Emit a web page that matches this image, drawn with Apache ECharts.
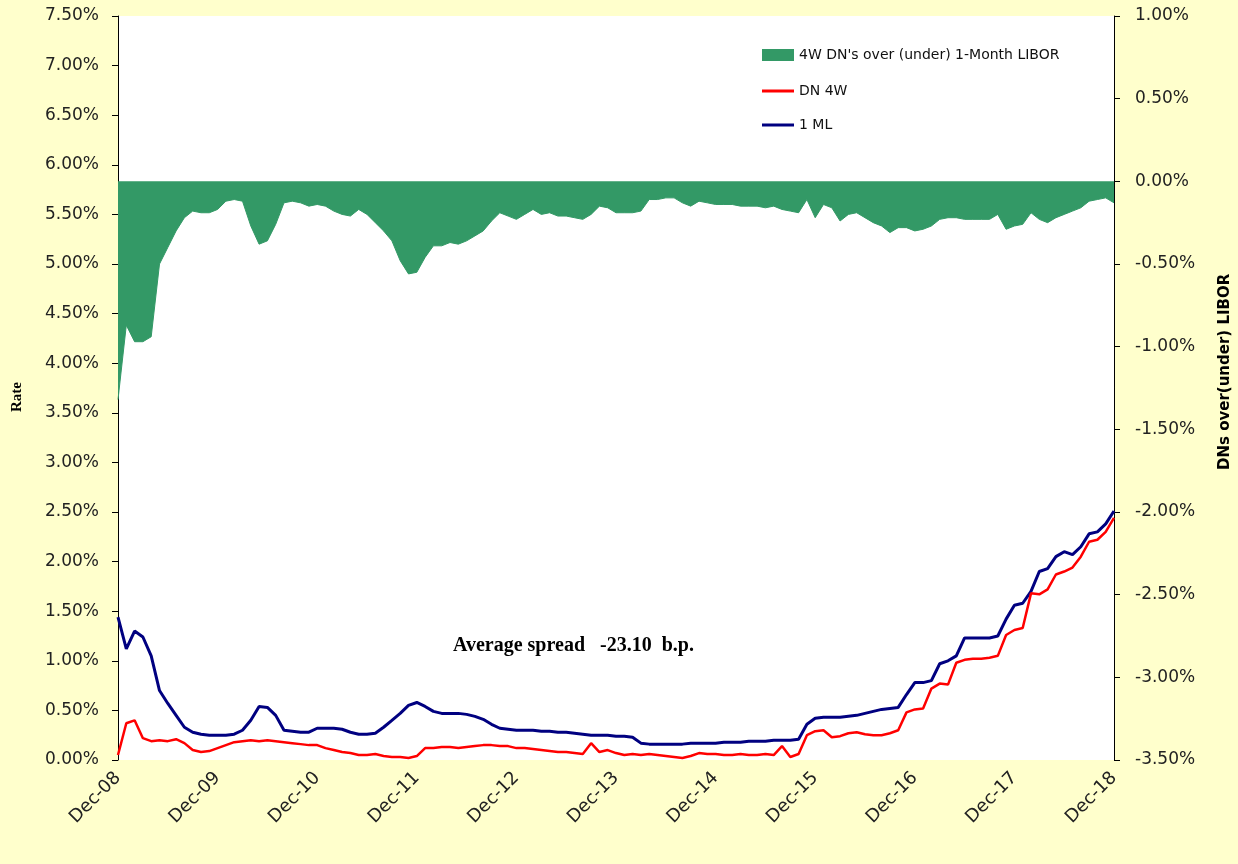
<!DOCTYPE html>
<html>
<head>
<meta charset="utf-8">
<script src="https://cdn.jsdelivr.net/npm/echarts@6/dist/echarts.min.js"></script>
<style>
html,body{margin:0;padding:0;background:#FFFFCC;}
#c{width:1238px;height:864px;}
</style>
</head>
<body>
<div id="c"></div>
<script>
// Month index 0 = Dec-08 ... 120 = Dec-18 (monthly readings)
const tickLabels = ['Dec-08','Dec-09','Dec-10','Dec-11','Dec-12','Dec-13','Dec-14','Dec-15','Dec-16','Dec-17','Dec-18'];

const oneML = [1.44,1.12,1.30,1.24,1.05,0.70,0.57,0.45,0.33,0.28,0.26,0.25,0.25,0.25,0.26,0.30,0.40,0.54,0.53,0.45,
0.30,0.29,0.28,0.28,0.32,0.32,0.32,0.31,0.28,0.26,0.26,0.27,0.33,0.40,0.47,0.55,0.58,0.54,0.49,0.47,
0.47,0.47,0.46,0.44,0.41,0.36,0.32,0.31,0.30,0.30,0.30,0.29,0.29,0.28,0.28,0.27,0.26,0.25,0.25,0.25,
0.24,0.24,0.23,0.17,0.16,0.16,0.16,0.16,0.16,0.17,0.17,0.17,0.17,0.18,0.18,0.18,0.19,0.19,0.19,0.20,
0.20,0.20,0.21,0.36,0.42,0.43,0.43,0.43,0.44,0.45,0.47,0.49,0.51,0.52,0.53,0.66,0.78,0.78,0.80,0.97,
1.00,1.05,1.23,1.23,1.23,1.23,1.25,1.42,1.56,1.58,1.70,1.90,1.93,2.05,2.10,2.07,2.15,2.28,2.30,2.38,2.51];

const dn4w = [0.05,0.37,0.40,0.22,0.19,0.20,0.19,0.21,0.17,0.10,0.08,0.09,0.12,0.15,0.18,0.19,0.20,0.19,0.20,0.19,
0.18,0.17,0.16,0.15,0.15,0.12,0.10,0.08,0.07,0.05,0.05,0.06,0.04,0.03,0.03,0.02,0.04,0.12,0.12,0.13,
0.13,0.12,0.13,0.14,0.15,0.15,0.14,0.14,0.12,0.12,0.11,0.10,0.09,0.08,0.08,0.07,0.06,0.17,0.08,0.10,
0.07,0.05,0.06,0.05,0.06,0.05,0.04,0.03,0.02,0.04,0.07,0.06,0.06,0.05,0.05,0.06,0.05,0.05,0.06,0.05,
0.14,0.03,0.06,0.25,0.29,0.30,0.23,0.24,0.27,0.28,0.26,0.25,0.25,0.27,0.30,0.48,0.51,0.52,0.72,0.77,
0.76,0.98,1.01,1.02,1.02,1.03,1.05,1.26,1.31,1.33,1.68,1.67,1.72,1.87,1.90,1.94,2.05,2.20,2.22,2.30,2.44];

const spread = [-1.32,-0.87,-0.97,-0.97,-0.94,-0.50,-0.40,-0.30,-0.22,-0.18,-0.19,-0.19,-0.17,-0.12,-0.11,-0.12,-0.27,-0.38,-0.36,-0.26,
-0.13,-0.12,-0.13,-0.15,-0.14,-0.15,-0.18,-0.20,-0.21,-0.17,-0.20,-0.25,-0.30,-0.36,-0.48,-0.56,-0.55,-0.46,-0.39,-0.39,
-0.37,-0.38,-0.36,-0.33,-0.30,-0.24,-0.19,-0.21,-0.23,-0.20,-0.17,-0.20,-0.19,-0.21,-0.21,-0.22,-0.23,-0.20,-0.15,-0.16,
-0.19,-0.19,-0.19,-0.18,-0.11,-0.11,-0.10,-0.10,-0.13,-0.15,-0.12,-0.13,-0.14,-0.14,-0.14,-0.15,-0.15,-0.15,-0.16,-0.15,
-0.17,-0.18,-0.19,-0.11,-0.22,-0.14,-0.16,-0.24,-0.20,-0.19,-0.22,-0.25,-0.27,-0.31,-0.28,-0.28,-0.30,-0.29,-0.27,-0.23,
-0.22,-0.22,-0.23,-0.23,-0.23,-0.23,-0.20,-0.29,-0.27,-0.26,-0.19,-0.23,-0.25,-0.22,-0.20,-0.18,-0.16,-0.12,-0.11,-0.10,-0.13];

const names = ["4W DN's over (under) 1-Month LIBOR", 'DN 4W', '1 ML'];
const axisNames = ['Rate', 'DNs over(under) LIBOR'];
const annotation = 'Average spread   -23.10  b.p.';

const pairs = arr => arr.map((v, i) => [i, v]);
const pct = v => v.toFixed(2) + '%';
const legendText = {fontFamily: 'DejaVu Sans', fontSize: 14, color: '#111'};

const chart = echarts.init(document.getElementById('c'), null, {renderer: 'canvas'});
chart.setOption({
  backgroundColor: '#FFFFCC',
  animation: false,
  grid: {left: 118, right: 124, top: 16, bottom: 104, show: true, backgroundColor: '#ffffff', borderWidth: 0},
  legend: [{
    orient: 'vertical', left: 757, top: 43, itemWidth: 32, itemHeight: 12, itemGap: 24,
    textStyle: legendText, data: [{name: names[0], icon: 'rect'}]
  }, {
    orient: 'vertical', left: 757, top: 79, itemWidth: 32, itemHeight: 3, itemGap: 20,
    textStyle: legendText, data: [{name: names[1], icon: 'rect'}, {name: names[2], icon: 'rect'}]
  }],
  xAxis: {
    type: 'value', min: 0, max: 120, interval: 12,
    axisLine: {show: false}, axisTick: {show: false}, splitLine: {show: false},
    axisLabel: {rotate: 45, margin: 15, fontFamily: 'DejaVu Sans', fontSize: 18, color: '#222',
      formatter: v => tickLabels[Math.round(v / 12)] || ''}
  },
  yAxis: [{
    type: 'value', min: 0, max: 7.5, interval: 0.5, position: 'left',
    axisLine: {show: true, lineStyle: {color: '#000', width: 1}},
    axisTick: {show: true, inside: false, length: 6, lineStyle: {color: '#000'}},
    splitLine: {show: false},
    axisLabel: {margin: 19, fontFamily: 'DejaVu Sans', fontSize: 17, color: '#222', formatter: pct}
  }, {
    type: 'value', min: -3.5, max: 1.0, interval: 0.5, position: 'right',
    axisLine: {show: true, lineStyle: {color: '#000', width: 1}},
    axisTick: {show: true, inside: false, length: 6, lineStyle: {color: '#000'}},
    splitLine: {show: false},
    axisLabel: {margin: 21, fontFamily: 'DejaVu Sans', fontSize: 17, color: '#222', formatter: pct}
  }],
  series: [{
    name: names[0], type: 'line', yAxisIndex: 1, data: pairs(spread), symbol: 'none',
    itemStyle: {color: '#339966'}, lineStyle: {color: '#339966', width: 1},
    areaStyle: {color: '#339966', opacity: 1}, z: 1
  }, {
    name: names[1], type: 'line', yAxisIndex: 0, data: pairs(dn4w), symbol: 'none',
    itemStyle: {color: '#ff0000'}, lineStyle: {color: '#ff0000', width: 2.5}, z: 3
  }, {
    name: names[2], type: 'line', yAxisIndex: 0, data: pairs(oneML), symbol: 'none',
    itemStyle: {color: '#000080'}, lineStyle: {color: '#000080', width: 3}, z: 2
  }],
  graphic: [{
    type: 'text', left: 453, top: 636,
    style: {text: annotation, fontFamily: 'Liberation Serif', fontWeight: 'bold', fontSize: 20, fill: '#000'}
  }, {
    type: 'text', x: 10, y: 412, rotation: Math.PI / 2,
    style: {text: axisNames[0], fontFamily: 'Liberation Serif', fontWeight: 'bold', fontSize: 15, fill: '#000', align: 'left', verticalAlign: 'top'}
  }, {
    type: 'text', x: 1218, y: 470, rotation: Math.PI / 2,
    style: {text: axisNames[1], fontFamily: 'DejaVu Sans', fontWeight: 'bold', fontSize: 15, fill: '#000', align: 'left', verticalAlign: 'top'}
  }]
});
</script>
</body>
</html>
